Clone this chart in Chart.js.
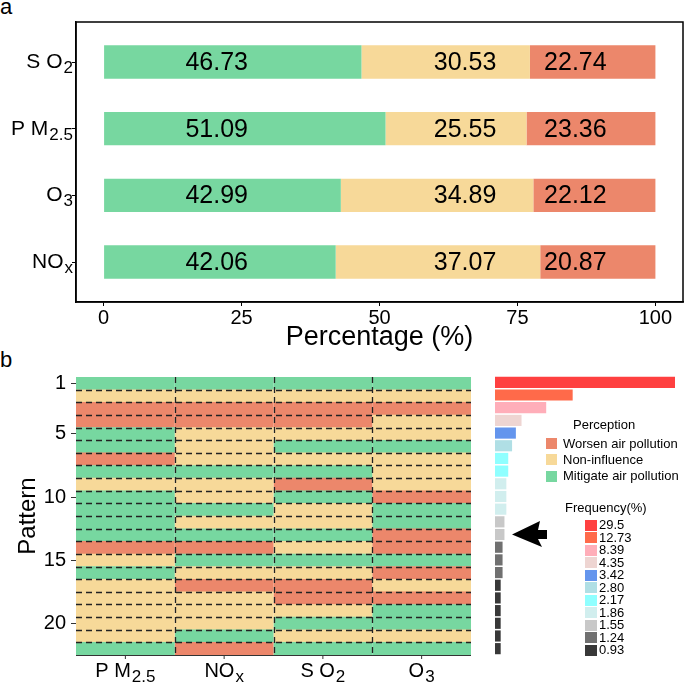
<!DOCTYPE html>
<html>
<head>
<meta charset="utf-8">
<script src="https://cdn.jsdelivr.net/npm/chart.js@4.4.1/dist/chart.umd.min.js"></script>
<style>
  body { margin: 0; background: #fff; width: 685px; height: 685px; position: relative; overflow: hidden;
         font-family: "Liberation Sans", Arial, sans-serif; color: #000; }
  canvas { position: absolute; }
  .txt { position: absolute; white-space: nowrap; }
  .sq { position: absolute; }
</style>
</head>
<body>
<div class="txt" style="left:0;top:-4px;font-size:22px;line-height:22px">a</div>
<div class="txt" style="left:0;top:349px;font-size:22px;line-height:22px">b</div>
<canvas id="barA" width="685" height="360" style="left:0;top:0"></canvas>
<canvas id="heat" width="480" height="325" style="left:0;top:360px"></canvas>
<canvas id="freq" width="205" height="325" style="left:480px;top:360px"></canvas>
<div id="legends"></div>

<script>
var FONT = '"Liberation Sans", Arial, sans-serif';
var GREEN = '#77D7A0', YELLOW = '#F7D999', RED = '#EC876B';

/* ---- panel a data ---- */
var pollutants = ['SO2', 'PM2.5', 'O3', 'NOx'];
var mitigate = [46.73, 51.09, 42.99, 42.06];
var noInfluence = [30.53, 25.55, 34.89, 37.07];
var worsen = [22.74, 23.36, 22.12, 20.87];
var xTicks = [0, 25, 50, 75, 100];

/* ---- panel b data: M = mitigate, N = non-influence, W = worsen ---- */
var patternCols = ['PM2.5', 'NOx', 'SO2', 'O3'];
var patternIds = ['1','2','3','4','5','6','7','8','9','10','11','12','13','14','15','16','17','18','19','20','21','22'];
var patPM25 = ['M','N','W','W','M','M','W','M','N','M','M','M','M','W','N','M','N','N','N','N','N','M'];
var patNOx  = ['M','N','W','W','N','N','N','M','N','N','M','N','M','W','M','N','W','N','N','N','M','W'];
var patSO2  = ['M','N','W','W','N','M','N','M','W','M','N','N','M','N','M','N','W','W','N','M','N','M'];
var patO3   = ['M','N','W','N','N','M','N','N','N','W','M','M','W','W','M','W','N','W','M','M','N','M'];
var shownPatternTicks = ['1', '5', '10', '15', '20'];
var frequency = [29.5, 12.73, 8.39, 4.35, 3.42, 2.80, 2.17, 2.17, 1.86, 1.86, 1.86,
                 1.55, 1.55, 1.24, 1.24, 1.24, 0.93, 0.93, 0.93, 0.93, 0.93, 0.93];
var freqKeyLabels = ['29.5', '12.73', '8.39', '4.35', '3.42', '2.80', '2.17', '1.86', '1.55', '1.24', '0.93'];
var freqColors = ['#FF4040', '#FF6A4A', '#FFAEB9', '#EED5D2', '#6495ED', '#B0DFE5',
                  '#8FFFFF', '#D1EEEE', '#C8C8C8', '#707070', '#383838'];
var perceptionNames = ['Worsen air pollution', 'Non-influence', 'Mitigate air pollution'];
var codeColor = { W: RED, N: YELLOW, M: GREEN };

// base + subscript for chemical names
var chemParts = {
  'SO2': ['S O', '2'], 'PM2.5': ['P M', '2.5'], 'O3': ['O', '3'], 'NOx': ['NO', 'x']
};
function drawChem(ctx, name, x, y, size, subSize, align) {
  var p = chemParts[name];
  ctx.font = size + 'px ' + FONT;
  var w1 = ctx.measureText(p[0]).width;
  ctx.font = subSize + 'px ' + FONT;
  var w2 = ctx.measureText(p[1]).width;
  var x0 = align === 'right' ? x - w1 - w2 - 1 : x - (w1 + w2 + 1) / 2;
  ctx.textAlign = 'left';
  ctx.textBaseline = 'alphabetic';
  ctx.fillStyle = '#000';
  ctx.font = size + 'px ' + FONT;
  ctx.fillText(p[0], x0, y);
  ctx.font = subSize + 'px ' + FONT;
  ctx.fillText(p[1], x0 + w1 + 1, y + 5);
}

/*----------------------------------------*/
/*  1.  panel a : stacked bars
/*----------------------------------------*/
var labelAt = [20.5, 65.5, 85.5];
var panelA = {
  id: 'panelA',
  afterDatasetsDraw: function (chart) {
    var ctx = chart.ctx, xs = chart.scales.x, ys = chart.scales.y, a = chart.chartArea;
    ctx.save();
    ctx.fillStyle = '#000';
    ctx.font = '25px ' + FONT;
    ctx.textAlign = 'center';
    ctx.textBaseline = 'middle';
    [mitigate, noInfluence, worsen].forEach(function (arr, j) {
      arr.forEach(function (v, i) {
        ctx.fillText(v.toFixed(2), xs.getPixelForValue(labelAt[j]), ys.getPixelForValue(i) + 1);
      });
    });
    ctx.strokeStyle = '#000';
    ctx.lineWidth = 1.5;
    ctx.strokeRect(a.left, a.top, a.right - a.left, a.bottom - a.top);
    pollutants.forEach(function (p, i) {
      drawChem(ctx, p, a.left - 3, ys.getPixelForValue(i) + 6, 21, 17, 'right');
    });
    ctx.restore();
  }
};

new Chart(document.getElementById('barA'), {
  type: 'bar',
  data: {
    datasets: [
      { label: 'Mitigate', data: mitigate.map(function (v, i) { return { x: v, y: i }; }), backgroundColor: GREEN },
      { label: 'Non-influence', data: noInfluence.map(function (v, i) { return { x: v, y: i }; }), backgroundColor: YELLOW },
      { label: 'Worsen', data: worsen.map(function (v, i) { return { x: v, y: i }; }), backgroundColor: RED }
    ]
  },
  options: {
    indexAxis: 'y',
    responsive: false,
    animation: false,
    devicePixelRatio: 1,
    layout: { padding: { top: 22, right: 2, left: 0, bottom: 0 } },
    datasets: { bar: { barPercentage: 0.5, categoryPercentage: 1, borderWidth: 0 } },
    plugins: { legend: { display: false }, tooltip: { enabled: false } },
    scales: {
      x: {
        type: 'linear', stacked: true, min: -5, max: 105,
        afterBuildTicks: function (s) { s.ticks = xTicks.map(function (v) { return { value: v }; }); },
        ticks: { font: { size: 20, family: FONT }, color: '#000', padding: 0 },
        grid: { drawOnChartArea: false, tickLength: 4, color: '#000' },
        border: { color: '#000', width: 1.5 },
        title: { display: true, text: 'Percentage (%)', color: '#000',
                 font: { size: 27, family: FONT }, padding: { top: 0, bottom: 6 } },
        afterFit: function (s) { s.height = 58; }
      },
      y: {
        type: 'linear', stacked: true, reverse: true, min: -0.6, max: 3.6,
        offset: false,
        afterBuildTicks: function (s) { s.ticks = pollutants.map(function (p, i) { return { value: i }; }); },
        ticks: { callback: function () { return ''; } },
        grid: { offset: false, drawOnChartArea: false, tickLength: 4, color: '#000' },
        border: { color: '#000', width: 1.5 },
        afterFit: function (s) { s.width = 76; }
      }
    }
  },
  plugins: [panelA]
});

/*----------------------------------------*/
/*  2.  panel b : pattern heatmap
/*----------------------------------------*/
var patterns = [patPM25, patNOx, patSO2, patO3];
var heatLines = {
  id: 'heatLines',
  afterDatasetsDraw: function (chart) {
    var ctx = chart.ctx, xs = chart.scales.x, ys = chart.scales.y, a = chart.chartArea;
    ctx.save();
    ctx.strokeStyle = '#222';
    ctx.lineWidth = 1.3;
    ctx.setLineDash([6, 4]);
    for (var k = 1; k < patternIds.length; k++) {
      var y = Math.round((ys.getPixelForValue(k - 1) + ys.getPixelForValue(k)) / 2) + 0.5;
      ctx.beginPath(); ctx.moveTo(a.left, y); ctx.lineTo(a.right, y); ctx.stroke();
    }
    for (var j = 1; j < patternCols.length; j++) {
      var x = Math.round(xs.getPixelForValue(j)) + 0.5;
      ctx.beginPath(); ctx.moveTo(x, a.top); ctx.lineTo(x, a.bottom); ctx.stroke();
    }
    ctx.setLineDash([]);
    ctx.strokeStyle = '#333';
    ctx.lineWidth = 1;
    ctx.beginPath(); ctx.moveTo(a.left, a.bottom + 0.5); ctx.lineTo(a.right, a.bottom + 0.5); ctx.stroke();
    patternCols.forEach(function (p, j) {
      var cx = xs.getPixelForValue(j + 0.5);
      ctx.beginPath(); ctx.moveTo(cx, a.bottom); ctx.lineTo(cx, a.bottom + 4); ctx.stroke();
      drawChem(ctx, p, cx, a.bottom + 22, 20, 17, 'center');
    });
    ctx.restore();
  }
};

new Chart(document.getElementById('heat'), {
  type: 'bar',
  data: {
    labels: patternIds,
    datasets: patterns.map(function (col, j) {
      return {
        label: patternCols[j],
        data: col.map(function () { return 1; }),
        backgroundColor: col.map(function (c) { return codeColor[c]; })
      };
    })
  },
  options: {
    indexAxis: 'y',
    responsive: false,
    animation: false,
    devicePixelRatio: 1,
    layout: { padding: { top: 16, right: 9, left: 0, bottom: 30 } },
    datasets: { bar: { barPercentage: 1.04, categoryPercentage: 1, borderWidth: 0 } },
    plugins: { legend: { display: false }, tooltip: { enabled: false } },
    scales: {
      x: { display: false, stacked: true, min: 0, max: 4 },
      y: {
        stacked: true,
        ticks: {
          autoSkip: false, color: '#000', padding: 5, font: { size: 20, family: FONT },
          callback: function (v) {
            var l = this.getLabelForValue(v);
            return shownPatternTicks.indexOf(l) >= 0 ? l : '';
          }
        },
        grid: {
          offset: false, drawOnChartArea: false, tickLength: 5,
          color: function (c) {
            return c.tick && shownPatternTicks.indexOf(patternIds[c.index]) >= 0 ? '#333' : 'rgba(0,0,0,0)';
          }
        },
        border: { color: '#333', width: 1 },
        title: { display: true, text: 'Pattern', color: '#000',
                 font: { size: 24, family: FONT }, padding: { top: 14, bottom: 0 } },
        afterFit: function (s) { s.width = 76; }
      }
    }
  },
  plugins: [heatLines]
});

/*----------------------------------------*/
/*  3.  panel b : frequency bars + arrow
/*----------------------------------------*/
function freqColor(v) {
  for (var i = 0; i < freqKeyLabels.length; i++) {
    if (parseFloat(freqKeyLabels[i]) === v) return freqColors[i];
  }
  return '#999';
}
var arrowRow = 12;
var arrow = {
  id: 'arrow',
  afterDatasetsDraw: function (chart) {
    var ctx = chart.ctx, ys = chart.scales.y, a = chart.chartArea;
    var tx = a.left + 17, ty = ys.getPixelForValue(arrowRow);
    var pts = [[0, 0], [28, -13.5], [26, -4.5], [35, -4.5], [35, 4.5], [26, 4.5], [30, 12.5]];
    ctx.save();
    ctx.fillStyle = '#000';
    ctx.beginPath();
    pts.forEach(function (p, i) {
      if (i === 0) ctx.moveTo(tx + p[0], ty + p[1]); else ctx.lineTo(tx + p[0], ty + p[1]);
    });
    ctx.closePath();
    ctx.fill();
    ctx.restore();
  }
};

new Chart(document.getElementById('freq'), {
  type: 'bar',
  data: {
    labels: patternIds,
    datasets: [{
      label: 'Frequency(%)',
      data: frequency,
      backgroundColor: frequency.map(freqColor)
    }]
  },
  options: {
    indexAxis: 'y',
    responsive: false,
    animation: false,
    devicePixelRatio: 1,
    layout: { padding: { top: 16, right: 10, left: 15, bottom: 30 } },
    datasets: { bar: { barPercentage: 0.88, categoryPercentage: 1, borderWidth: 0 } },
    plugins: { legend: { display: false }, tooltip: { enabled: false } },
    scales: {
      x: { display: false, min: 0, max: 29.5 },
      y: { display: false }
    }
  },
  plugins: [arrow]
});

/*----------------------------------------*/
/*  4.  legends
/*----------------------------------------*/
var html = '';
html += '<div class="txt" style="left:573px;top:417px;font-size:13px;line-height:16px">Perception</div>';
var percColors = [RED, YELLOW, GREEN];
perceptionNames.forEach(function (n, i) {
  var cy = 443.5 + i * 16.3;
  html += '<div class="sq" style="left:546px;top:' + (cy - 5.5) + 'px;width:11px;height:11px;background:' + percColors[i] + '"></div>';
  html += '<div class="txt" style="left:563px;top:' + (cy - 8) + 'px;font-size:13px;line-height:16px">' + n + '</div>';
});
html += '<div class="txt" style="left:565px;top:500px;font-size:13px;line-height:16px">Frequency(%)</div>';
freqKeyLabels.forEach(function (l, i) {
  var cy = 525 + i * 12.5;
  html += '<div class="sq" style="left:585px;top:' + (cy - 5.5) + 'px;width:12px;height:11px;background:' + freqColors[i] + '"></div>';
  html += '<div class="txt" style="left:599px;top:' + (cy - 8) + 'px;font-size:13px;line-height:16px">' + l + '</div>';
});
document.getElementById('legends').innerHTML = html;
</script>
</body>
</html>
